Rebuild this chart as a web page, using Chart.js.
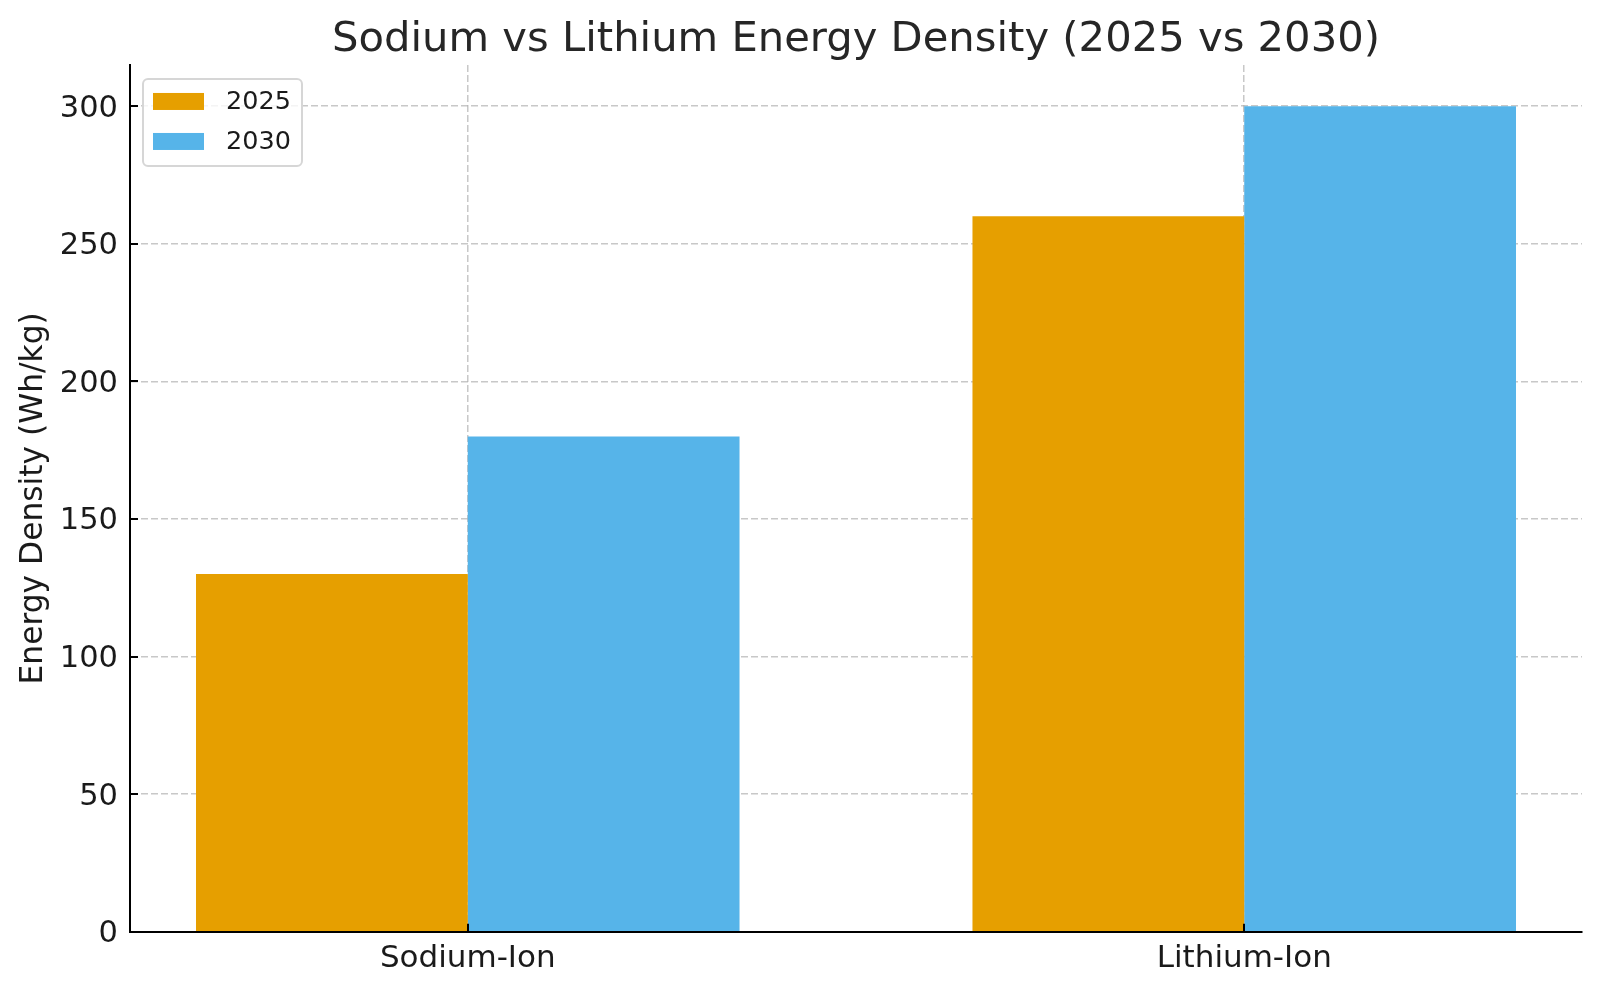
<!DOCTYPE html>
<html><head><meta charset="utf-8">
<script src="https://cdn.jsdelivr.net/npm/chart.js@4.4.1/dist/chart.umd.min.js"></script>
<style>html,body{margin:0;padding:0;background:#fff;overflow:hidden;} #wrap{width:1600px;height:991px;}</style>
</head><body><div id="wrap"><canvas id="c" width="1600" height="991"></canvas></div>
<script>
const categories = ['Sodium-Ion', 'Lithium-Ion'];
const seriesLabels = ['2025', '2030'];
const values2025 = [130, 260];
const values2030 = [180, 300];
const yTicks = [0, 50, 100, 150, 200, 250, 300];
const seriesColors = ['#E69F00', '#56B4E9'];
const FONT = "'DejaVu Sans', sans-serif";

const toPoints = vals => vals.map((v, i) => ({ x: i, y: v }));

const innerTicks = {
  id: 'innerTicks',
  afterDatasetsDraw(chart) {
    const { ctx, chartArea: ca, scales: { x, y } } = chart;
    ctx.save();
    ctx.strokeStyle = '#000';
    ctx.lineWidth = 2;
    ctx.beginPath();
    y.ticks.forEach(t => { const py = Math.round(y.getPixelForValue(t.value)); ctx.moveTo(ca.left, py); ctx.lineTo(ca.left + 8, py); });
    x.ticks.forEach(t => { const px = Math.round(x.getPixelForValue(t.value)); ctx.moveTo(px, ca.bottom); ctx.lineTo(px, ca.bottom - 8); });
    ctx.stroke();
    ctx.restore();
  }
};

const boxLegend = {
  id: 'boxLegend',
  afterDraw(chart) {
    const { ctx, chartArea: ca } = chart;
    const x0 = ca.left + 13, y0 = ca.top + 14, w = 159, h = 87;
    ctx.save();
    ctx.beginPath();
    ctx.roundRect(x0, y0, w, h, 5);
    ctx.fillStyle = 'rgba(255,255,255,0.8)';
    ctx.fill();
    ctx.strokeStyle = '#d6d6d6';
    ctx.lineWidth = 2;
    ctx.stroke();
    chart.data.datasets.forEach((ds, i) => {
      const by = y0 + 14 + i * 40;
      ctx.fillStyle = ds.backgroundColor;
      ctx.fillRect(x0 + 10, by, 51, 17);
      ctx.fillStyle = '#1a1a1a';
      ctx.font = '25.5px ' + FONT;
      ctx.textBaseline = 'middle';
      ctx.textAlign = 'left';
      ctx.fillText(ds.label, x0 + 83, by + 9);
    });
    ctx.restore();
  }
};

const gridColor = 'rgba(176,176,176,0.7)';

new Chart(document.getElementById('c'), {
  type: 'bar',
  data: {
    datasets: [
      { label: seriesLabels[0], data: toPoints(values2025), backgroundColor: seriesColors[0], borderWidth: 0, categoryPercentage: 0.7, barPercentage: 1.0 },
      { label: seriesLabels[1], data: toPoints(values2030), backgroundColor: seriesColors[1], borderWidth: 0, categoryPercentage: 0.7, barPercentage: 1.0 }
    ]
  },
  options: {
    responsive: false,
    devicePixelRatio: 1,
    animation: false,
    layout: { padding: { left: 0, right: 18, top: 0, bottom: 0 } },
    plugins: {
      legend: { display: false },
      tooltip: { enabled: false },
      title: {
        display: true,
        text: 'Sodium vs Lithium Energy Density (2025 vs 2030)',
        fullSize: false,
        color: '#262626',
        font: { family: FONT, size: 41.7, weight: 'normal', lineHeight: 1.1 },
        padding: { top: 17, bottom: 2.1 }
      }
    },
    scales: {
      x: {
        type: 'linear',
        min: -0.435,
        max: 1.435,
        offset: false,
        afterBuildTicks: s => { s.ticks = categories.map((c, i) => ({ value: i })); },
        afterFit: s => { s.height = 59.3; },
        ticks: {
          autoSkip: false, maxRotation: 0, padding: 9, color: '#1a1a1a',
          font: { family: FONT, size: 31 },
          callback: v => categories[v] ?? ''
        },
        grid: { offset: false, drawTicks: false, color: gridColor, lineWidth: 1.5 },
        border: { display: true, color: '#000', width: 2, dash: [7, 3], z: 1 }
      },
      y: {
        min: 0,
        max: 315,
        afterBuildTicks: s => { s.ticks = yTicks.map(v => ({ value: v })); },
        afterFit: s => { s.width = 130; },
        ticks: { padding: 12, labelOffset: 2.5, color: '#1a1a1a', font: { family: FONT, size: 30.5 } },
        grid: { drawTicks: false, color: gridColor, lineWidth: 1.5 },
        border: { display: true, color: '#000', width: 2, dash: [7, 3], z: 1 },
        title: {
          display: true, text: 'Energy Density (Wh/kg)', color: '#1a1a1a',
          font: { family: FONT, size: 31.3 }, padding: { top: 15.5, bottom: 0 }
        }
      }
    }
  },
  plugins: [innerTicks, boxLegend]
});
</script>
</body></html>
